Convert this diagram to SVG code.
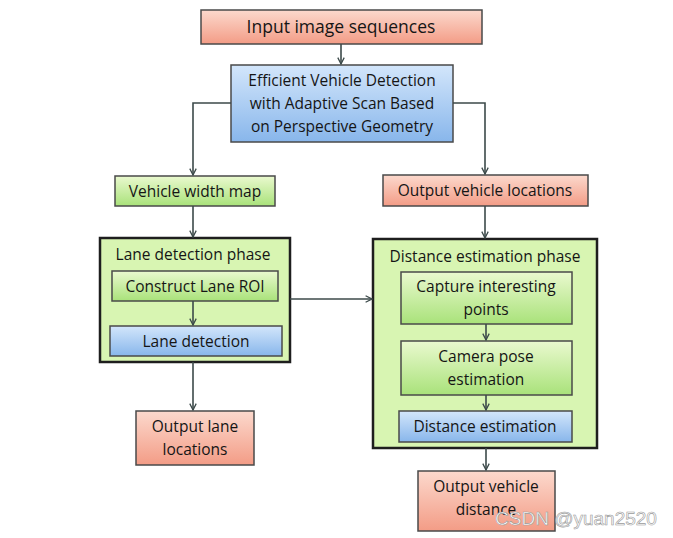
<svg xmlns="http://www.w3.org/2000/svg" width="673" height="538" viewBox="0 0 673 538">
<defs>
<linearGradient id="gRed" x1="0" y1="0" x2="0" y2="1"><stop offset="0" stop-color="#fcd9cd"/><stop offset="1" stop-color="#f39c86"/></linearGradient>
<linearGradient id="gBlue" x1="0" y1="0" x2="0" y2="1"><stop offset="0" stop-color="#d3e6fb"/><stop offset="1" stop-color="#88b6eb"/></linearGradient>
<linearGradient id="gGreen" x1="0" y1="0" x2="0" y2="1"><stop offset="0" stop-color="#eaf9cf"/><stop offset="1" stop-color="#a9e27a"/></linearGradient>
<marker id="arr" viewBox="0 0 10 10" refX="9" refY="5" markerWidth="8" markerHeight="8" markerUnits="userSpaceOnUse" orient="auto"><path d="M1,1 L9,5 L1,9" fill="none" stroke="#3c4a4a" stroke-width="1.6"/></marker>
</defs>
<style>
.box{stroke:#4a4a4a;stroke-width:1.5}
.phase{fill:#d8f5b2;stroke:#1e1e1e;stroke-width:2.5}
.t{font-family:"Open Sans","Liberation Sans",sans-serif;font-size:15.5px;fill:#151515;text-anchor:middle}
.c{fill:none;stroke:#3c4a4a;stroke-width:1.6}
</style>
<rect width="673" height="538" fill="#ffffff"/>
<g id="input"><rect class="box" x="201" y="10" width="281" height="34" fill="url(#gRed)"/><text class="t" x="341" y="33" style="font-size:17.5px">Input image sequences</text></g>
<g id="evd"><rect class="box" x="231" y="65" width="222" height="77" fill="url(#gBlue)"/>
<text class="t" x="342" y="86">Efficient Vehicle Detection</text>
<text class="t" x="342" y="109">with Adaptive Scan Based</text>
<text class="t" x="342" y="132">on Perspective Geometry</text></g>
<g id="vwm"><rect class="box" x="115" y="176" width="160" height="30" fill="url(#gGreen)"/><text class="t" x="195" y="197">Vehicle width map</text></g>
<g id="ovl"><rect class="box" x="383" y="175" width="205" height="31" fill="url(#gRed)"/><text class="t" x="485" y="196">Output vehicle locations</text></g>
<g id="lanephase"><rect class="phase" x="100" y="238" width="190" height="124"/>
<text class="t" x="193" y="260">Lane detection phase</text></g>
<g id="roi"><rect class="box" x="112" y="271" width="166" height="30" fill="url(#gGreen)"/><text class="t" x="195" y="292">Construct Lane ROI</text></g>
<g id="lanedet"><rect class="box" x="110" y="326" width="172" height="30" fill="url(#gBlue)"/><text class="t" x="196" y="347">Lane detection</text></g>
<g id="distphase"><rect class="phase" x="373" y="239" width="224" height="209"/>
<text class="t" x="485" y="262">Distance estimation phase</text></g>
<g id="capture"><rect class="box" x="401" y="272" width="171" height="52" fill="url(#gGreen)"/>
<text class="t" x="486" y="292">Capture interesting</text><text class="t" x="486" y="315">points</text></g>
<g id="pose"><rect class="box" x="401" y="341" width="171" height="54" fill="url(#gGreen)"/>
<text class="t" x="486" y="362">Camera pose</text><text class="t" x="486" y="385">estimation</text></g>
<g id="distest"><rect class="box" x="399" y="411" width="173" height="31" fill="url(#gBlue)"/><text class="t" x="485" y="432">Distance estimation</text></g>
<g id="olane"><rect class="box" x="136" y="411" width="118" height="54" fill="url(#gRed)"/>
<text class="t" x="195" y="432">Output lane</text><text class="t" x="195" y="455">locations</text></g>
<g id="odist"><rect class="box" x="418" y="471" width="137" height="60" fill="url(#gRed)"/>
<text class="t" x="486" y="492">Output vehicle</text><text class="t" x="486" y="515">distance</text></g>
<g id="connectors">
<path class="c" d="M341,44 V64" marker-end="url(#arr)"/>
<path class="c" d="M231,103 H193 V175" marker-end="url(#arr)"/>
<path class="c" d="M453,103 H485 V174" marker-end="url(#arr)"/>
<path class="c" d="M193,206 V237" marker-end="url(#arr)"/>
<path class="c" d="M485,206 V238" marker-end="url(#arr)"/>
<path class="c" d="M193,301 V325" marker-end="url(#arr)"/>
<path class="c" d="M290,299 H372" marker-end="url(#arr)"/>
<path class="c" d="M193,362 V410" marker-end="url(#arr)"/>
<path class="c" d="M486,324 V340" marker-end="url(#arr)"/>
<path class="c" d="M486,395 V410" marker-end="url(#arr)"/>
<path class="c" d="M486,448 V470" marker-end="url(#arr)"/>
</g>
<text x="576" y="525" style="font-family:'Liberation Sans',sans-serif;font-size:19px;fill:#ffffff;stroke:#9a9a9a;stroke-width:0.6;text-anchor:middle">CSDN @yuan2520</text>
</svg>
